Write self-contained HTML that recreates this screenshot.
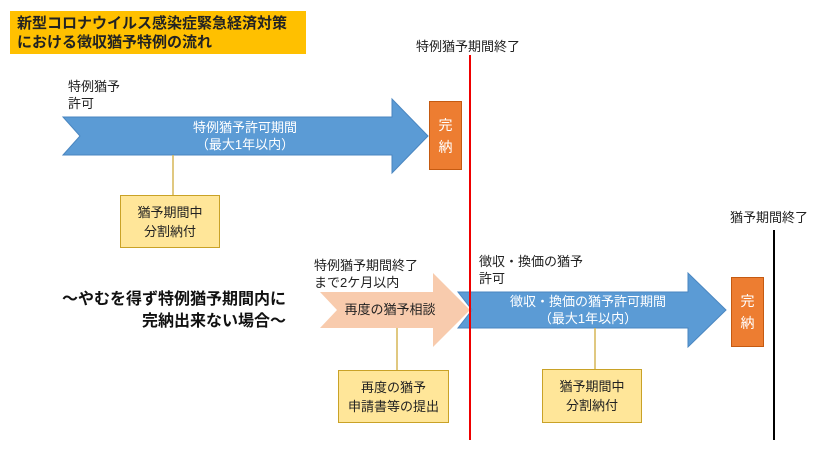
<!DOCTYPE html>
<html><head><meta charset="utf-8"><style>
body{margin:0;width:819px;height:450px;background:#fff;overflow:hidden;position:relative;font-family:"Liberation Sans","Noto Sans CJK JP",sans-serif;font-size:13px;color:#222}
.a{position:absolute;line-height:17px;white-space:nowrap}
.box{position:absolute;box-sizing:border-box;display:flex;align-items:center;justify-content:center;text-align:center;line-height:19px}
.y{background:#FFE699;border:1.5px solid #C9A227;color:#222}
.o{background:#ED7D31;border:1px solid #C55A11;color:#fff;font-size:14px;line-height:22px}
</style></head><body>
<div class="box" style="left:10px;top:11px;width:296px;height:43px;background:#FFC000;font-weight:bold;font-size:15px;justify-content:flex-start;padding-left:7px;text-align:left;line-height:19px">新型コロナウイルス感染症緊急経済対策<br>における徴収猶予特例の流れ</div>
<svg width="819" height="450" style="position:absolute;left:0;top:0">
<polygon points="63,117 392,117 392,99 428,136 392,173 392,155 63,155 80,136" fill="#5B9BD5" stroke="#4A86C0" stroke-width="1"/>
<polygon points="320,292 433,292 433,273 470,310 433,347 433,328 320,328 337,310" fill="#F8CBAD"/>
<polygon points="458,292 688,292 688,273 726,310 688,347 688,328 458,328 472,310" fill="#5B9BD5" stroke="#4A86C0" stroke-width="1"/>
<line x1="173" y1="155" x2="173" y2="195" stroke="#D6B656" stroke-width="1.5"/>
<line x1="397" y1="328" x2="397" y2="370" stroke="#D6B656" stroke-width="1.5"/>
<line x1="595" y1="328" x2="595" y2="369" stroke="#D6B656" stroke-width="1.5"/>
<line x1="470" y1="55" x2="470" y2="440" stroke="#E00" stroke-width="2"/>
<line x1="774" y1="230" x2="774" y2="440" stroke="#000" stroke-width="2"/>
</svg>
<div class="a" style="left:145px;top:119px;width:200px;text-align:center;color:#fff">特例猶予許可期間<br>（最大1年以内）</div>
<div class="a" style="left:340px;top:301px;width:100px;text-align:center">再度の猶予相談</div>
<div class="a" style="left:478px;top:293px;width:220px;text-align:center;color:#fff">徴収・換価の猶予許可期間<br>（最大1年以内）</div>
<div class="box o" style="left:429px;top:101px;width:33px;height:69px">完<br>納</div>
<div class="box o" style="left:731px;top:277px;width:33px;height:70px">完<br>納</div>
<div class="box y" style="left:120px;top:195px;width:100px;height:53px">猶予期間中<br>分割納付</div>
<div class="box y" style="left:338px;top:370px;width:111px;height:53px">再度の猶予<br>申請書等の提出</div>
<div class="box y" style="left:542px;top:369px;width:100px;height:54px">猶予期間中<br>分割納付</div>
<div class="a" style="left:68px;top:78px">特例猶予<br>許可</div>
<div class="a" style="left:416px;top:38px">特例猶予期間終了</div>
<div class="a" style="left:730px;top:209px">猶予期間終了</div>
<div class="a" style="left:314px;top:257px">特例猶予期間終了<br>まで2ケ月以内</div>
<div class="a" style="left:479px;top:253px">徴収・換価の猶予<br>許可</div>
<div class="a" style="left:20px;top:289px;width:266px;text-align:right;font-weight:bold;font-size:16px;line-height:22px;color:#111">〜やむを得ず特例猶予期間内に<br>完納出来ない場合〜</div>
</body></html>
